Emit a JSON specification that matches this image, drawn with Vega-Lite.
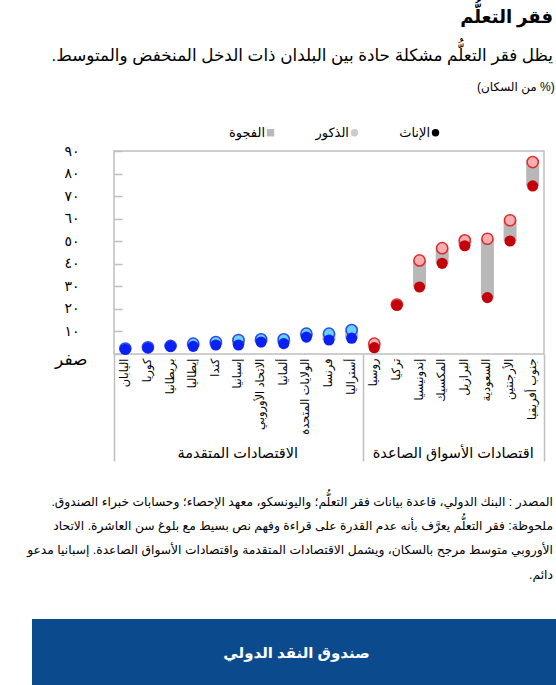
{
  "$schema": "https://vega.github.io/schema/vega-lite/v6.json",
  "padding": {"left": 27, "top": 9, "right": 0, "bottom": 0},
  "title": {
    "text": "فقر التعلُّم",
    "subtitle": "يظل فقر التعلُّم مشكلة حادة بين البلدان ذات الدخل المنخفض والمتوسط.‏",
    "anchor": "end",
    "dx": -8,
    "fontSize": 18,
    "fontWeight": "bold",
    "color": "#000000",
    "subtitleFontSize": 16.8,
    "subtitleColor": "#000000",
    "subtitlePadding": 21,
    "offset": 15
  },
  "spacing": 32,
  "vconcat": [
    {
      "spacing": 0,
      "hconcat": [
        {
          "width": 1,
          "height": 1,
          "view": {"stroke": null},
          "data": {"values": []},
          "mark": "text"
        },
        {
          "width": 430,
          "height": 203,
          "title": {"text": "‏(% من السكان)‏", "anchor": "end", "fontSize": 12, "fontWeight": "normal", "color": "#000000", "dx": 10, "offset": 50},
          "data": {
            "values": [
              {"country": "اليابان", "group": "advanced", "female": 2.1, "male": 2.4},
              {"country": "كوريا", "group": "advanced", "female": 2.7, "male": 3.0},
              {"country": "بريطانيا", "group": "advanced", "female": 3.4, "male": 3.6},
              {"country": "إيطاليا", "group": "advanced", "female": 3.4, "male": 4.6},
              {"country": "كندا", "group": "advanced", "female": 4.0, "male": 5.3},
              {"country": "إسبانيا", "group": "advanced", "female": 4.0, "male": 6.2},
              {"country": "الاتحاد الأوروبي", "group": "advanced", "female": 5.3, "male": 6.5},
              {"country": "ألمانيا", "group": "advanced", "female": 4.6, "male": 6.5},
              {"country": "الولايات المتحدة", "group": "advanced", "female": 7.5, "male": 9.0},
              {"country": "فرنسا", "group": "advanced", "female": 6.2, "male": 9.0},
              {"country": "أستراليا", "group": "advanced", "female": 7.0, "male": 10.6},
              {"country": "روسيا", "group": "emerging", "female": 2.8, "male": 4.6},
              {"country": "تركيا", "group": "emerging", "female": 21.6, "male": 21.9},
              {"country": "إندونيسيا", "group": "emerging", "female": 29.7, "male": 41.5},
              {"country": "المكسيك", "group": "emerging", "female": 40.2, "male": 46.9},
              {"country": "البرازيل", "group": "emerging", "female": 48.0, "male": 50.4},
              {"country": "السعودية", "group": "emerging", "female": 25.0, "male": 51.1},
              {"country": "الأرجنتين", "group": "emerging", "female": 50.1, "male": 59.3},
              {"country": "جنوب أفريقيا", "group": "emerging", "female": 74.5, "male": 85.1}
            ]
          },
          "layer": [
            {
              "mark": {"type": "bar", "width": 13},
              "encoding": {
                "x": {
                  "field": "country",
                  "type": "nominal",
                  "sort": null,
                  "scale": {"paddingInner": 0, "paddingOuter": 0},
                  "axis": {"title": null, "orient": "bottom", "labelAngle": 270, "labelFontSize": 11.5, "labelColor": "#000000", "ticks": false, "domain": false, "labelPadding": 4, "labelLimit": 200}
                },
                "y": {
                  "field": "female",
                  "type": "quantitative",
                  "scale": {"domain": [0, 90], "nice": false},
                  "axis": {
                    "title": null,
                    "values": [0, 10, 20, 30, 40, 50, 60, 70, 80, 90],
                    "domain": false,
                    "grid": false,
                    "tickSize": -8,
                    "tickColor": "#bfbfbf",
                    "tickWidth": 1.5,
                    "labelColor": "#000000",
                    "labelOverlap": false,
                    "labelFontSize": {"condition": {"test": "datum.value === 0", "value": 17}, "value": 14},
                    "labelPadding": {"condition": {"test": "datum.value === 0", "value": 35}, "value": 43},
                    "labelOffset": {"condition": {"test": "datum.value === 0", "value": 5}, "value": 0},
                    "labelExpr": "datum.value === 0 ? 'صفر' : ['٠','١','٢','٣','٤','٥','٦','٧','٨','٩'][floor(datum.value / 10)] + '٠'",
                    "minExtent": 80
                  }
                },
                "y2": {"field": "male"},
                "color": {
                  "datum": "الفجوة",
                  "type": "nominal",
                  "scale": {"domain": ["الفجوة", "الذكور", "الإناث"], "range": ["#b8b8b8", "#cccccc", "#000000"]},
                  "legend": {
                    "orient": "none",
                    "legendX": 232,
                    "legendY": -25,
                    "direction": "horizontal",
                    "title": null,
                    "labelFontSize": 13,
                    "labelColor": "#000000",
                    "symbolSize": 55,
                    "symbolStrokeWidth": 0,
                    "labelAlign": "right",
                    "labelOffset": -12,
                    "columnPadding": 40,
                    "encode": {"symbols": {"update": {"shape": {"signal": "datum.value === 'الفجوة' ? 'square' : 'circle'"}}}}
                  }
                }
              }
            },
            {
              "mark": {"type": "point", "filled": true, "size": 125, "strokeWidth": 1.5, "opacity": 1},
              "encoding": {
                "x": {
                  "field": "country",
                  "type": "nominal",
                  "sort": null,
                  "axis": {
                    "title": null,
                    "orient": "bottom",
                    "values": ["اليابان", "أستراليا", "جنوب أفريقيا"],
                    "tickBand": "extent",
                    "tickSize": 107,
                    "tickColor": "#bfbfbf",
                    "tickWidth": 1.5,
                    "tickOpacity": {"condition": {"test": "datum.value === 'اليابان' && !datum.extra", "value": 0}, "value": 1},
                    "domain": false,
                    "labelAngle": 0,
                    "labelAlign": "center",
                    "labelBaseline": "middle",
                    "labelFontSize": 14.5,
                    "labelColor": "#000000",
                    "labelPadding": -8,
                    "labelOverlap": false,
                    "labelExpr": "datum.value === 'اليابان' ? 'الاقتصادات المتقدمة' : datum.value === 'جنوب أفريقيا' ? 'اقتصادات الأسواق الصاعدة' : ''",
                    "labelOffset": {"condition": {"test": "datum.value === 'اليابان'", "value": 112}, "value": -80}
                  }
                },
                "y": {
                  "field": "male",
                  "type": "quantitative",
                  "axis": {
                    "title": null,
                    "values": [0, 10, 20, 30, 40, 50, 60, 70, 80, 90],
                    "domain": false,
                    "grid": false,
                    "tickSize": -8,
                    "tickColor": "#bfbfbf",
                    "tickWidth": 1.5,
                    "labelColor": "#000000",
                    "labelOverlap": false,
                    "labelFontSize": {"condition": {"test": "datum.value === 0", "value": 17}, "value": 14},
                    "labelPadding": {"condition": {"test": "datum.value === 0", "value": 35}, "value": 43},
                    "labelOffset": {"condition": {"test": "datum.value === 0", "value": 5}, "value": 0},
                    "labelExpr": "datum.value === 0 ? 'صفر' : ['٠','١','٢','٣','٤','٥','٦','٧','٨','٩'][floor(datum.value / 10)] + '٠'",
                    "minExtent": 80
                  }
                },
                "color": {"datum": "الذكور", "type": "nominal"},
                "fill": {"field": "group", "type": "nominal", "scale": {"domain": ["advanced", "emerging"], "range": ["#66d2f5", "#f6aeb0"]}, "legend": null},
                "stroke": {"field": "group", "type": "nominal", "scale": {"domain": ["advanced", "emerging"], "range": ["#2948f0", "#dc2a2e"]}, "legend": null}
              }
            },
            {
              "mark": {"type": "point", "filled": true, "size": 125, "strokeWidth": 0, "opacity": 1},
              "encoding": {
                "x": {"field": "country", "type": "nominal", "sort": null, "axis": null},
                "y": {
                  "field": "female",
                  "type": "quantitative",
                  "axis": {
                    "title": null,
                    "values": [0, 10, 20, 30, 40, 50, 60, 70, 80, 90],
                    "domain": false,
                    "grid": false,
                    "tickSize": -8,
                    "tickColor": "#bfbfbf",
                    "tickWidth": 1.5,
                    "labelColor": "#000000",
                    "labelOverlap": false,
                    "labelFontSize": {"condition": {"test": "datum.value === 0", "value": 17}, "value": 14},
                    "labelPadding": {"condition": {"test": "datum.value === 0", "value": 35}, "value": 43},
                    "labelOffset": {"condition": {"test": "datum.value === 0", "value": 5}, "value": 0},
                    "labelExpr": "datum.value === 0 ? 'صفر' : ['٠','١','٢','٣','٤','٥','٦','٧','٨','٩'][floor(datum.value / 10)] + '٠'",
                    "minExtent": 80
                  }
                },
                "color": {"datum": "الإناث", "type": "nominal"},
                "fill": {"field": "group", "type": "nominal", "scale": {"domain": ["advanced", "emerging"], "range": ["#0b20f2", "#c4000b"]}, "legend": null}
              }
            }
          ],
          "resolve": {"scale": {"fill": "independent"}, "axis": {"x": "independent"}}
        }
      ]
    },
    {
      "width": 529,
      "height": 68,
      "view": {"fill": "#0c4a8e", "stroke": null},
      "title": {
        "text": [
          "المصدر : البنك الدولي، قاعدة بيانات فقر التعلُّم؛ واليونسكو، معهد الإحصاء؛ وحسابات خبراء الصندوق.‏",
          "ملحوظة: فقر التعلُّم يعرَّف بأنه عدم القدرة على قراءة وفهم نص بسيط مع بلوغ سن العاشرة. الاتحاد",
          "الأوروبي متوسط مرجح بالسكان، ويشمل الاقتصادات المتقدمة واقتصادات الأسواق الصاعدة. إسبانيا مدعو",
          "دائم.‏"
        ],
        "anchor": "end",
        "fontSize": 12.3,
        "fontWeight": "normal",
        "color": "#000000",
        "lineHeight": 24.3,
        "dx": -8,
        "offset": 38
      },
      "data": {"values": [{"name": "صندوق النقد الدولي"}]},
      "mark": {"type": "text", "color": "#ffffff", "fontSize": 15, "fontWeight": "bold"},
      "encoding": {"text": {"field": "name"}}
    }
  ],
  "config": {
    "font": "Liberation Sans, DejaVu Sans, sans-serif",
    "view": {"stroke": "#bfbfbf", "strokeWidth": 1.5}
  }
}
